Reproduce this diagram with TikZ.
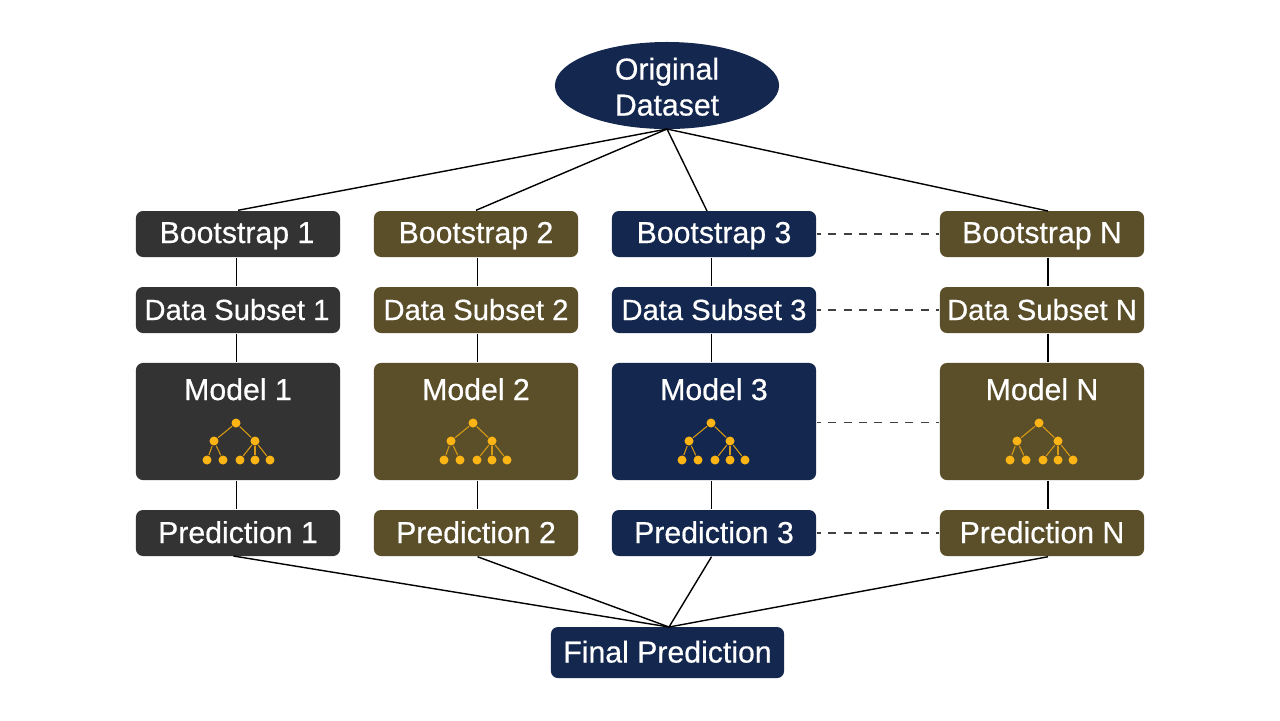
\documentclass[tikz,border=0pt]{standalone}
\usepackage{fontspec}
\setmainfont[RawFeature={embolden=0.5}]{Liberation Sans}
\usetikzlibrary{shapes.geometric}
\definecolor{navy}{HTML}{14274E}
\definecolor{charcoal}{HTML}{333333}
\definecolor{olive}{HTML}{5B4F2A}
\definecolor{gold}{HTML}{FDB515}
\tikzset{
  box/.style={rounded corners=0.07cm, minimum width=2.04cm, minimum height=0.46cm, inner sep=0pt},
  modelbox/.style={box, minimum height=1.17cm},
  title/.style={text=white, inner sep=0pt, anchor=base, font=\fontsize{8.6}{10}\selectfont},
  subtitle/.style={title, font=\fontsize{8.3}{10}\selectfont},
  link/.style={black, line width=0.4pt},
  dotlink/.style={black!75, line width=0.4pt, dash pattern=on 0.08cm off 0.074cm, dash phase=0.04cm},
  leaf/.style={circle, fill=gold, inner sep=0pt, minimum size=0.09cm},
  twig/.style={gold!85!black, line width=0.3pt},
  pics/tree/.style={code={
    \node[leaf] (-a) at (0,0) {};
    \node[leaf] (-b) at (-22,18) {};
    \node[leaf] (-c) at (19,18) {};
    \node[leaf] (-d) at (-29,37) {};
    \node[leaf] (-e) at (-13,37) {};
    \node[leaf] (-f) at (4,37) {};
    \node[leaf] (-g) at (19,37) {};
    \node[leaf] (-h) at (34,37) {};
    \draw[twig] (-a) -- (-b);
    \draw[twig] (-a) -- (-c);
    \draw[twig] (-b) -- (-d);
    \draw[twig] (-b) -- (-e);
    \draw[twig] (-c) -- (-f);
    \draw[twig] (-c) -- (-g);
    \draw[twig] (-c) -- (-h);
  }}
}
\begin{document}
\begin{tikzpicture}[x=0.01cm,y=-0.01cm]
  \useasboundingbox[fill=white] (0,0) rectangle (1280,720);
  \node[ellipse, fill=navy, minimum width=2.24cm, minimum height=0.87cm, inner sep=0pt] (orig) at (667,85.5) {};
  \node[title] (origa) at (667,79.5) {Original};
  \node[title] (origb) at (667,115.5) {Dataset};

  \node[box, fill=charcoal] (boot1) at (238,234) {};
  \node[box, fill=olive] (boot2) at (476,234) {};
  \node[box, fill=navy] (boot3) at (714,234) {};
  \node[box, fill=olive] (bootN) at (1042,234) {};
  \node[title] (word1) at (237,243) {Bootstrap 1};
  \node[title] (word2) at (476,243) {Bootstrap 2};
  \node[title] (word3) at (714,243) {Bootstrap 3};
  \node[title] (wordN) at (1042,243) {Bootstrap N};

  \node[box, fill=charcoal] (sub1) at (238,310) {};
  \node[box, fill=olive] (sub2) at (476,310) {};
  \node[box, fill=navy] (sub3) at (714,310) {};
  \node[box, fill=olive] (subN) at (1042,310) {};
  \node[subtitle] (set1) at (237,320) {Data Subset 1};
  \node[subtitle] (set2) at (476,320) {Data Subset 2};
  \node[subtitle] (set3) at (714,320) {Data Subset 3};
  \node[subtitle] (setN) at (1042,320) {Data Subset N};

  \node[modelbox, fill=charcoal] (model1) at (238,421.5) {};
  \node[modelbox, fill=olive] (model2) at (476,421.5) {};
  \node[modelbox, fill=navy] (model3) at (714,421.5) {};
  \node[modelbox, fill=olive] (modelN) at (1042,421.5) {};
  \node[title] (name1) at (238,400) {Model 1};
  \node[title] (name2) at (476,400) {Model 2};
  \node[title] (name3) at (714,400) {Model 3};
  \node[title] (nameN) at (1042,400) {Model N};
  \pic (tree1) at (236,423) {tree};
  \pic (tree2) at (473,423) {tree};
  \pic (tree3) at (711,423) {tree};
  \pic (treeN) at (1039,423) {tree};

  \node[box, fill=charcoal] (pred1) at (238,533) {};
  \node[box, fill=olive] (pred2) at (476,533) {};
  \node[box, fill=navy] (pred3) at (714,533) {};
  \node[box, fill=olive] (predN) at (1042,533) {};
  \node[title] (out1) at (238,543) {Prediction 1};
  \node[title] (out2) at (476,543) {Prediction 2};
  \node[title] (out3) at (714,543) {Prediction 3};
  \node[title] (outN) at (1042,543) {Prediction N};

  \node[box, fill=navy, minimum width=2.33cm, minimum height=0.51cm] (final) at (667.5,652.5) {};
  \node[title] (finalword) at (667.5,662.5) {Final Prediction};

  % where the lines meet the boxes
  \coordinate (top) at (667,129);
  \coordinate (bottom) at (669,627);
  \coordinate (arm3) at (707,211);
  \coordinate (armN) at (1048,211);
  \coordinate (foot1) at (233.5,556);
  \coordinate (col1) at (236.5,0);
  \coordinate (col2) at (477.5,0);
  \coordinate (col3) at (711.5,0);
  \coordinate (colN) at (1048,0);

  \draw[link] (top) -- (boot1.north);
  \draw[link] (top) -- (boot2.north);
  \draw[link] (top) -- (arm3);
  \draw[link] (top) -- (armN);

  \foreach \k in {1,2,3,N} {
    \draw[link] (boot\k.south -| col\k) -- (sub\k.north -| col\k);
    \draw[link] (sub\k.south -| col\k) -- (model\k.north -| col\k);
    \draw[link] (model\k.south -| col\k) -- (pred\k.north -| col\k);
  }
  \draw[link] (foot1) -- (bottom);
  \draw[link] (pred2.south -| col2) -- (bottom);
  \draw[link] (pred3.south -| col3) -- (bottom);
  \draw[link] (predN.south -| colN) -- (bottom);

  \draw[dotlink] (boot3.east) -- (bootN.west);
  \draw[dotlink] (sub3.east) -- (subN.west);
  \draw[dotlink] (model3.east |- 0,422.5) -- (modelN.west |- 0,422.5);
  \draw[dotlink] (pred3.east) -- (predN.west);
\end{tikzpicture}
\end{document}
